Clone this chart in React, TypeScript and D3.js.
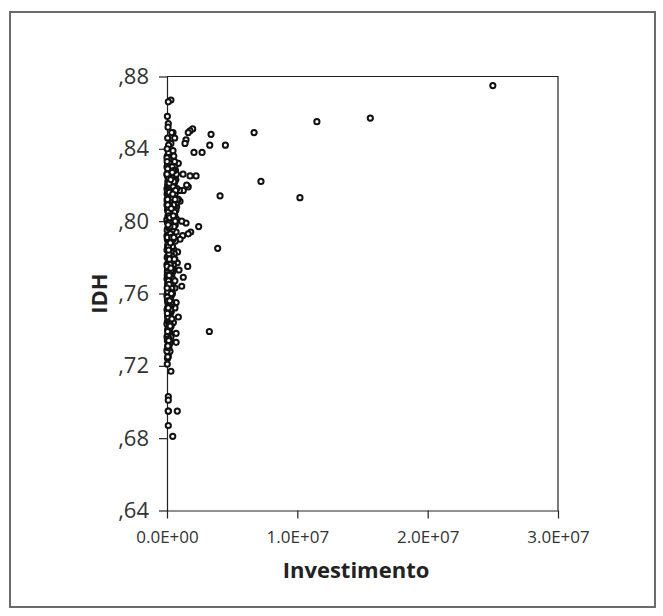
import React, { useEffect, useRef } from 'react';
import * as d3 from 'd3';

// Investimento (R$) e IDH por município
const investimento = [
  25.0e6, 11.5e6, 15.6e6, 10.2e6, 7.21e6, 6.68e6, 4.48e6, 4.07e6, 3.89e6, 3.38e6,
  3.28e6, 3.25e6, 2.69e6, 2.43e6, 2.23e6, 2.07e6, 1.97e6, 1.82e6, 1.77e6, 1.77e6,
  1.63e6, 1.63e6, 1.63e6, 1.59e6, 1.51e6, 1.46e6, 1.46e6, 1.38e6, 1.25e6, 1.25e6,
  1.23e6, 1.2e6, 1.13e6, 1.13e6, 1.0e6, 1.0e6, 0.95e6, 0.92e6, 0.87e6, 0.87e6,
  0.87e6, 0.81e6, 0.79e6, 0.79e6, 0.74e6, 0.7e6, 0.7e6, 0.7e6, 0.61e6, 0.61e6,
  0.59e6, 0.49e6, 0.46e6, 0.44e6, 0.36e6, 0.3e6, 0.3e6, 0.3e6, 0.1e6, 0.1e6,
  0.1e6, 0.1e6, 0.1e6, 0.1e6, 0.1e6, 0.1e6, 0.1e6,
  20e3, 60e3, 110e3, 150e3, 240e3, 310e3, 380e3, 450e3, 520e3, 600e3,
  80e3, 180e3, 260e3, 350e3, 420e3, 500e3, 30e3, 130e3, 210e3, 290e3,
  370e3, 440e3, 560e3, 680e3, 50e3, 100e3, 160e3, 230e3, 300e3, 340e3,
  410e3, 480e3, 540e3, 620e3, 70e3, 140e3, 200e3, 270e3, 330e3, 390e3,
  460e3, 530e3, 580e3, 700e3, 10e3, 90e3, 170e3, 250e3, 320e3, 400e3,
  470e3, 550e3, 40e3, 120e3, 190e3, 280e3, 350e3, 430e3, 510e3, 600e3,
  20e3, 110e3, 150e3, 220e3, 300e3, 370e3, 450e3, 640e3, 60e3, 130e3,
  200e3, 260e3, 330e3, 410e3, 490e3, 570e3, 30e3, 80e3, 170e3, 240e3,
  310e3, 380e3, 460e3, 520e3, 50e3, 140e3, 210e3, 280e3, 350e3, 420e3,
  600e3, 10e3, 100e3, 180e3, 250e3, 330e3, 400e3, 480e3, 70e3, 150e3,
  220e3, 290e3, 360e3, 440e3, 20e3, 120e3, 200e3, 270e3, 340e3, 410e3,
  60e3, 160e3, 230e3, 300e3, 380e3, 30e3, 110e3, 190e3, 260e3, 350e3,
  80e3, 140e3, 220e3, 300e3, 40e3, 120e3, 180e3, 250e3, 330e3, 70e3,
  150e3, 210e3, 280e3, 20e3, 100e3, 170e3, 240e3, 50e3, 130e3, 200e3,
  270e3, 80e3, 160e3, 30e3, 110e3, 190e3, 250e3, 60e3, 140e3, 10e3,
  90e3, 40e3, 20e3, 520e3, 650e3, 720e3, 760e3, 800e3, 680e3, 740e3,
  700e3, 640e3, 560e3, 500e3, 450e3, 420e3, 380e3, 350e3, 320e3, 300e3,
  230e3, 560e3, 600e3, 460e3, 120e3, 50e3, 80e3, 30e3, 15e3, 0,
  5e3, 15e3, 25e3, 35e3, 45e3, 55e3, 65e3, 75e3, 85e3, 95e3,
  105e3, 115e3, 125e3, 135e3,
  0, 0, 0, 0, 0, 0, 0, 0, 0, 0, 0, 0, 0, 0,
  40e3, 90e3, 140e3, 190e3, 230e3, 280e3, 320e3, 360e3, 400e3,
  25e3, 65e3, 105e3, 145e3, 185e3, 225e3, 265e3, 305e3, 345e3, 385e3, 425e3, 465e3, 505e3,
  35e3, 75e3, 115e3, 155e3, 195e3, 235e3, 275e3, 315e3, 355e3, 395e3, 435e3, 475e3,
  15e3, 55e3, 95e3, 135e3, 175e3, 215e3, 255e3, 295e3, 335e3, 375e3, 415e3,
  45e3, 85e3, 125e3, 165e3, 205e3, 245e3, 285e3, 325e3, 365e3, 445e3,
  25e3, 65e3, 105e3, 145e3, 185e3, 225e3, 265e3, 305e3, 345e3,
  35e3, 75e3, 115e3, 155e3, 195e3, 235e3, 275e3, 315e3,
  45e3, 85e3, 125e3, 165e3, 205e3, 245e3,
  55e3, 95e3, 135e3, 175e3, 215e3, 60e3, 100e3,
  300e3, 470e3, 540e3, 580e3, 620e3, 520e3, 480e3, 590e3, 660e3, 630e3,
  10e3, 50e3, 90e3, 130e3, 170e3, 210e3, 250e3, 20e3, 60e3, 100e3,
  140e3, 180e3, 220e3, 260e3, 30e3, 70e3, 110e3, 150e3, 190e3, 230e3,
  40e3, 80e3, 120e3, 160e3, 200e3, 20e3, 60e3, 100e3, 140e3, 180e3,
  5e3, 45e3, 85e3, 125e3, 165e3, 205e3, 245e3, 285e3, 325e3, 365e3,
  15e3, 55e3, 95e3, 135e3, 175e3, 215e3, 255e3, 295e3, 335e3, 375e3,
  405e3, 445e3, 485e3, 525e3, 565e3, 605e3, 10e3, 30e3, 50e3, 70e3,
];

const idh = [
  0.875, 0.855, 0.857, 0.813, 0.822, 0.849, 0.842, 0.814, 0.785, 0.848,
  0.842, 0.739, 0.838, 0.797, 0.825, 0.838, 0.851, 0.794, 0.850, 0.825,
  0.849, 0.819, 0.793, 0.775, 0.820, 0.845, 0.799, 0.843, 0.817, 0.769,
  0.826, 0.792, 0.800, 0.764, 0.811, 0.790, 0.817, 0.773, 0.832, 0.812,
  0.747, 0.783, 0.777, 0.695, 0.808, 0.755, 0.738, 0.733, 0.763, 0.752,
  0.846, 0.744, 0.849, 0.681, 0.849, 0.867, 0.843, 0.717, 0.866, 0.854,
  0.727, 0.725, 0.703, 0.701, 0.695, 0.687, 0.695,
  0.836, 0.834, 0.838, 0.833, 0.835, 0.831, 0.834, 0.832, 0.833, 0.830,
  0.829, 0.828, 0.827, 0.829, 0.826, 0.828, 0.825, 0.824, 0.823, 0.825,
  0.822, 0.824, 0.821, 0.823, 0.820, 0.819, 0.821, 0.818, 0.820, 0.817,
  0.819, 0.816, 0.818, 0.815, 0.815, 0.814, 0.816, 0.813, 0.812, 0.814,
  0.811, 0.812, 0.809, 0.810, 0.812, 0.810, 0.809, 0.808, 0.807, 0.808,
  0.806, 0.805, 0.806, 0.805, 0.804, 0.803, 0.804, 0.802, 0.801, 0.803,
  0.801, 0.800, 0.799, 0.798, 0.799, 0.797, 0.796, 0.798, 0.796, 0.795,
  0.794, 0.793, 0.792, 0.791, 0.793, 0.790, 0.791, 0.789, 0.788, 0.787,
  0.786, 0.788, 0.785, 0.784, 0.785, 0.783, 0.782, 0.781, 0.780, 0.782,
  0.779, 0.780, 0.778, 0.777, 0.776, 0.775, 0.777, 0.774, 0.774, 0.773,
  0.772, 0.771, 0.770, 0.772, 0.770, 0.768, 0.767, 0.766, 0.768, 0.765,
  0.765, 0.763, 0.762, 0.761, 0.763, 0.760, 0.759, 0.758, 0.757, 0.759,
  0.756, 0.755, 0.754, 0.753, 0.752, 0.751, 0.750, 0.749, 0.750, 0.748,
  0.747, 0.745, 0.746, 0.744, 0.743, 0.742, 0.741, 0.740, 0.739, 0.737,
  0.738, 0.736, 0.735, 0.734, 0.733, 0.732, 0.734, 0.731, 0.730, 0.729,
  0.727, 0.724, 0.721, 0.836, 0.828, 0.826, 0.818, 0.812, 0.806, 0.801,
  0.794, 0.789, 0.782, 0.776, 0.768, 0.760, 0.754, 0.746, 0.742, 0.736,
  0.728, 0.828, 0.822, 0.839, 0.842, 0.846, 0.852, 0.858, 0.840, 0.830,
  0.815, 0.800, 0.790, 0.775, 0.765, 0.755, 0.745, 0.735, 0.810, 0.820,
  0.800, 0.787, 0.771, 0.762,
  0.835, 0.826, 0.818, 0.809, 0.801, 0.792, 0.784, 0.776, 0.768, 0.759, 0.751, 0.743, 0.736, 0.728,
  0.831, 0.826, 0.829, 0.832, 0.830, 0.828, 0.826, 0.824, 0.830,
  0.817, 0.822, 0.815, 0.818, 0.813, 0.811, 0.819, 0.815, 0.810, 0.806, 0.813, 0.819, 0.809,
  0.808, 0.803, 0.807, 0.802, 0.809, 0.804, 0.799, 0.795, 0.800, 0.795, 0.798, 0.803,
  0.795, 0.799, 0.792, 0.789, 0.796, 0.790, 0.785, 0.789, 0.784, 0.781, 0.786,
  0.786, 0.781, 0.777, 0.782, 0.778, 0.771, 0.775, 0.779, 0.773, 0.778,
  0.772, 0.769, 0.764, 0.767, 0.770, 0.764, 0.760, 0.765, 0.763,
  0.757, 0.761, 0.754, 0.758, 0.753, 0.757, 0.751, 0.755,
  0.747, 0.749, 0.744, 0.748, 0.743, 0.745,
  0.737, 0.740, 0.735, 0.739, 0.733, 0.725, 0.730,
  0.783, 0.790, 0.797, 0.805, 0.812, 0.822, 0.828, 0.833, 0.817, 0.800,
  0.833, 0.829, 0.826, 0.824, 0.821, 0.817, 0.815, 0.811, 0.809, 0.805,
  0.803, 0.799, 0.797, 0.793, 0.791, 0.787, 0.786, 0.782, 0.779, 0.776,
  0.774, 0.770, 0.767, 0.765, 0.761, 0.758, 0.756, 0.752, 0.749, 0.746,
  0.826, 0.812, 0.798, 0.784, 0.770, 0.756, 0.742, 0.823, 0.807, 0.791,
  0.775, 0.761, 0.747, 0.734, 0.816, 0.802, 0.788, 0.774, 0.760, 0.746,
  0.827, 0.815, 0.803, 0.791, 0.779, 0.767, 0.763, 0.749, 0.739, 0.731,
];

const yTicks = [0.64, 0.68, 0.72, 0.76, 0.8, 0.84, 0.88];
const xTicks = [0, 1e7, 2e7, 3e7];

const width = 663;
const height = 616;
const plot = { left: 167, right: 558, top: 76.5, bottom: 510.5 };

const fmtY = (d: number) => d3.format('.2f')(d).replace(/^0/, '').replace('.', ',');
const fmtX = (d: number) => {
  const [m, e] = d3.format('.1e')(d).split('e');
  const exp = parseInt(e, 10);
  return `${m}E${exp < 0 ? '-' : '+'}${String(Math.abs(exp)).padStart(2, '0')}`;
};

export default function App() {
  const ref = useRef<SVGSVGElement>(null);

  useEffect(() => {
    document.body.style.margin = '0';
    const svg = d3.select(ref.current);
    svg.selectAll('*').remove();

    svg
      .append('rect')
      .attr('x', 10)
      .attr('y', 12)
      .attr('width', 645)
      .attr('height', 595)
      .attr('fill', 'none')
      .attr('stroke', '#6b6b6b')
      .attr('stroke-width', 2);

    const x = d3.scaleLinear().domain([0, 3e7]).range([plot.left, plot.right]);
    const y = d3.scaleLinear().domain([0.64, 0.88]).range([plot.bottom, plot.top]);

    // top and right frame
    svg
      .append('path')
      .attr('d', `M${plot.left},${plot.top}H${plot.right}V${plot.bottom}`)
      .attr('fill', 'none')
      .attr('stroke', '#222')
      .attr('stroke-width', 1.2);

    const yAxis = svg
      .append('g')
      .attr('transform', `translate(${plot.left},0)`)
      .call(d3.axisLeft(y).tickValues(yTicks).tickSize(8).tickSizeOuter(0).tickPadding(10).tickFormat(fmtY as any));

    const xAxis = svg
      .append('g')
      .attr('transform', `translate(0,${plot.bottom})`)
      .call(d3.axisBottom(x).tickValues(xTicks).tickSize(8).tickSizeOuter(0).tickPadding(12).tickFormat(fmtX as any));

    [yAxis, xAxis].forEach((g) => {
      g.selectAll('.domain').attr('stroke', '#222').attr('stroke-width', 1.2);
      g.selectAll('.tick line').attr('stroke', '#222').attr('stroke-width', 1.2);
    });
    yAxis
      .selectAll('.tick text')
      .attr('fill', '#333')
      .style('font-family', '"Open Sans", sans-serif')
      .style('font-size', '22px');
    xAxis
      .selectAll('.tick text')
      .attr('fill', '#333')
      .style('font-family', '"Open Sans", sans-serif')
      .style('font-size', '17px');

    const n = Math.min(investimento.length, idh.length);
    svg
      .append('g')
      .selectAll('circle')
      .data(d3.range(n))
      .enter()
      .append('circle')
      .attr('cx', (i) => x(investimento[i]))
      .attr('cy', (i) => y(idh[i]))
      .attr('r', 2.6)
      .attr('fill', 'white')
      .attr('stroke', '#111')
      .attr('stroke-width', 2);

    svg
      .append('text')
      .attr('x', 356)
      .attr('y', 578)
      .attr('text-anchor', 'middle')
      .attr('fill', '#222')
      .style('font-family', '"Open Sans", sans-serif')
      .style('font-weight', 'bold')
      .style('font-size', '22px')
      .text('Investimento');

    svg
      .append('text')
      .attr('transform', `translate(107,${(plot.top + plot.bottom) / 2}) rotate(-90)`)
      .attr('text-anchor', 'middle')
      .attr('fill', '#222')
      .style('font-family', '"Open Sans", sans-serif')
      .style('font-weight', 'bold')
      .style('font-size', '22px')
      .text('IDH');
  }, []);

  return <svg ref={ref} width={width} height={height} style={{ display: 'block', background: '#fff' }} />;
}
